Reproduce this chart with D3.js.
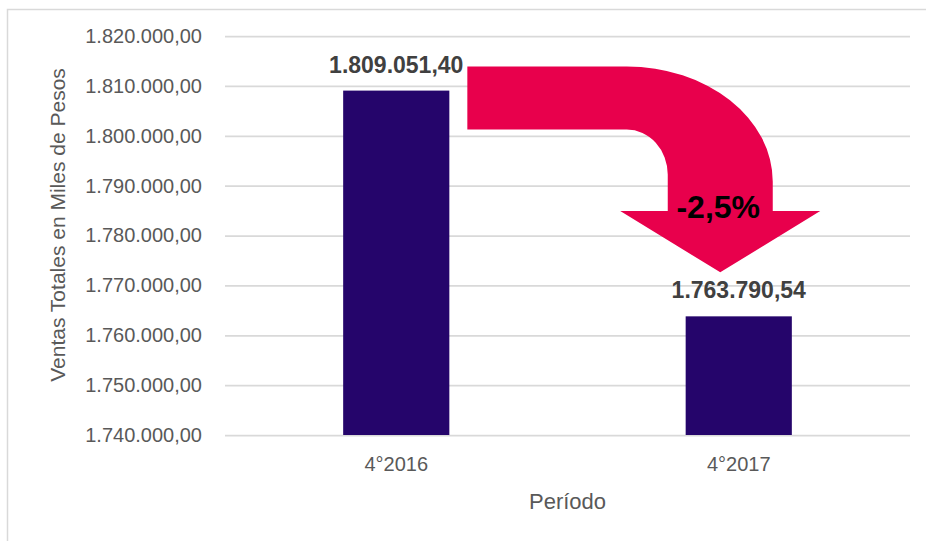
<!DOCTYPE html>
<html>
<head>
<meta charset="utf-8">
<script src="https://cdn.jsdelivr.net/npm/d3@7"></script>
<style>
  body { margin: 0; background: #fff; }
  text { font-family: "Liberation Sans", Arial, sans-serif; }
</style>
</head>
<body>
<svg id="drawing_region"></svg>
<script>
// datos
const periods = ["4°2016", "4°2017"];
const ventas = [1809051.40, 1763790.54];
const yTicks = [1740000, 1750000, 1760000, 1770000, 1780000, 1790000, 1800000, 1810000, 1820000];
const variacion = "-2,5%";

const width = 926;
const height = 541;
const margin = {top: 36, right: 16, bottom: 106, left: 225};

const es = d3.formatLocale({decimal: ",", thousands: ".", grouping: [3], currency: ["$", ""]});
const fmt = es.format(",.2f");

const svg = d3.select('#drawing_region')
    .attr('width', width)
    .attr('height', height);

// borde del grafico
svg.append("rect")
    .attr("x", 7.5).attr("y", 9.5)
    .attr("width", 940).attr("height", 560)
    .attr("fill", "none")
    .attr("stroke", "#d9d9d9")
    .attr("stroke-width", 1.5);

const xscale = d3.scaleBand()
    .domain(periods)
    .range([margin.left, width - margin.right])
    .padding(0);

const yscale = d3.scaleLinear()
    .domain([yTicks[0], yTicks[yTicks.length - 1]])
    .range([height - margin.bottom, margin.top]);

const barW = xscale.bandwidth() * 0.31;

// eje y + grilla
const yaxis = d3.axisLeft(yscale)
    .tickValues(yTicks)
    .tickFormat(fmt)
    .tickSizeInner(-(width - margin.left - margin.right))
    .tickSizeOuter(0)
    .tickPadding(23);

const yg = svg.append("g")
    .attr("transform", `translate(${margin.left},0)`)
    .call(yaxis);
yg.select(".domain").remove();
yg.selectAll("line").attr("stroke", "#d9d9d9").attr("stroke-width", 1.75);
yg.selectAll("text")
    .attr("fill", "#595959")
    .attr("font-size", "20px")
    .attr("font-family", "Liberation Sans, Arial, sans-serif");

// eje x
const xaxis = d3.axisBottom(xscale).tickSize(0).tickPadding(22);
const xg = svg.append("g")
    .attr("transform", `translate(0,${height - margin.bottom})`)
    .call(xaxis);
xg.select(".domain").remove();
xg.selectAll("text")
    .attr("fill", "#595959")
    .attr("font-size", "20px")
    .attr("font-family", "Liberation Sans, Arial, sans-serif");

// titulos
svg.append("text")
    .attr("x", (margin.left + width - margin.right) / 2)
    .attr("y", 509)
    .attr("text-anchor", "middle")
    .attr("fill", "#595959")
    .attr("font-size", "22px")
    .text("Período");

svg.append("text")
    .attr("transform", "translate(65,225) rotate(-90)")
    .attr("text-anchor", "middle")
    .attr("fill", "#595959")
    .attr("font-size", "21px")
    .text("Ventas Totales en Miles de Pesos");

// barras
svg.selectAll("rect.bar").data(periods).enter()
    .append("rect")
    .attr("class", "bar")
    .attr("x", d => xscale(d) + xscale.bandwidth() / 2 - barW / 2)
    .attr("y", (d, i) => yscale(ventas[i]))
    .attr("width", barW)
    .attr("height", (d, i) => yscale(yTicks[0]) - yscale(ventas[i]))
    .attr("fill", "#25056b");

// etiquetas de datos
svg.selectAll("text.lbl").data(periods).enter()
    .append("text")
    .attr("class", "lbl")
    .attr("x", d => xscale(d) + xscale.bandwidth() / 2)
    .attr("y", (d, i) => yscale(ventas[i]) - 18)
    .attr("text-anchor", "middle")
    .attr("fill", "#404040")
    .attr("font-weight", "bold")
    .attr("font-size", "23px")
    .text((d, i) => fmt(ventas[i]));

// flecha de variacion (posicion tomada de las barras)
const c1 = xscale(periods[1]) + xscale.bandwidth() / 2;
const x0 = xscale(periods[0]) + xscale.bandwidth() / 2 + barW / 2 + 18;
const aTop = yscale(ventas[0]) - 24;
const thick = 63;
const stemL = c1 - 71, stemR = c1 + 34;
const cornerX = stemL - 41;
const headY = 211;
const tipY = yscale(ventas[1]) - 44;
const tipX = (stemL + stemR) / 2;

const outer = `A ${stemR - cornerX},115 0 0 1 ${stemR},${aTop + 115}`;
const inner = `A ${stemL - cornerX},45 0 0 0 ${cornerX},${aTop + thick}`;
const dPath = `M${x0},${aTop} L${cornerX},${aTop} ${outer} L${stemR},${headY} L${tipX + 100},${headY} ` +
  `L${tipX},${tipY} L${tipX - 100},${headY} L${stemL},${headY} L${stemL},${aTop + thick + 45} ${inner} L${x0},${aTop + thick} Z`;

svg.append("path")
    .attr("d", dPath)
    .attr("fill", "#e8004c");

svg.append("text")
    .attr("x", tipX - 2)
    .attr("y", 218)
    .attr("text-anchor", "middle")
    .attr("fill", "#000")
    .attr("font-weight", "bold")
    .attr("font-size", "32px")
    .text(variacion);
</script>
</body>
</html>
